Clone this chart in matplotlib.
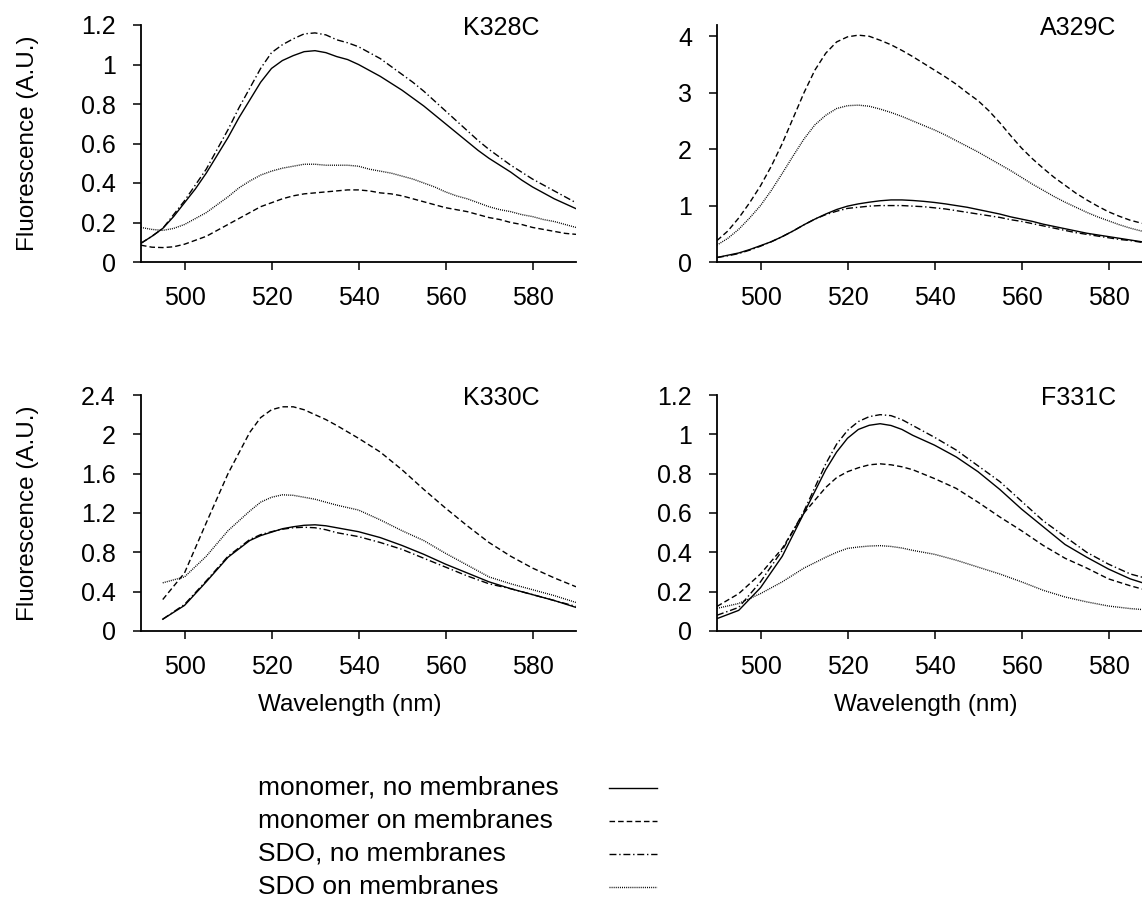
"""
fluorescence spectra, 4 mutants
"""
import numpy as np
from matplotlib import pyplot as plt

plt.rcParams['font.family'] = ['Liberation Sans', 'DejaVu Sans']
plt.rcParams['lines.scale_dashes'] = False

# grille 2.5 nm pour K328C et A329C
wl = np.arange(490, 590.1, 2.5)
# grilles plus lâches pour K330C et F331C
wl_k330 = [495, 500, 505, 510, 515, 517.5, 520, 522.5, 525, 527.5, 530, 532.5,
           535, 540, 545, 550, 555, 560, 565, 570, 575, 580, 585, 590]
wl_f331 = [490, 495, 500, 505, 510, 515, 517.5, 520, 522.5, 525, 527.5, 530,
           532.5, 535, 540, 545, 550, 555, 560, 565, 570, 575, 580, 585, 590]

# K328C
k328_mono = [.095, .13, .17, .23, .30, .37, .45, .54, .63, .73, .82, .91, .98,
             1.02, 1.045, 1.065, 1.07, 1.06, 1.04, 1.025, 1.0, .97, .94, .905,
             .87, .83, .79, .745, .70, .655, .61, .565, .525, .49, .455, .415,
             .38, .35, .32, .295, .27]
k328_mono_mem = [.085, .075, .073, .077, .09, .11, .13, .16, .19, .22, .25, .28,
                 .30, .32, .335, .345, .35, .355, .36, .365, .365, .36, .35,
                 .345, .335, .32, .305, .29, .275, .265, .255, .24, .225, .215,
                 .20, .19, .175, .165, .155, .145, .14]
k328_sdo = [.095, .13, .17, .24, .31, .39, .47, .57, .67, .78, .88, .98, 1.06,
            1.10, 1.13, 1.155, 1.16, 1.15, 1.125, 1.11, 1.09, 1.06, 1.03, .99,
            .95, .91, .865, .815, .765, .715, .665, .615, .57, .53, .49, .455,
            .42, .39, .36, .33, .30]
k328_sdo_mem = [.175, .165, .16, .17, .19, .22, .25, .29, .33, .375, .41, .44,
                .46, .475, .485, .495, .495, .49, .49, .49, .485, .47, .46, .45,
                .435, .42, .40, .38, .355, .335, .32, .30, .28, .265, .255, .24,
                .23, .215, .205, .19, .175]

# A329C
a329_mono = [.08, .12, .16, .22, .29, .36, .45, .55, .66, .76, .85, .93, .99,
             1.03, 1.06, 1.085, 1.10, 1.10, 1.09, 1.075, 1.055, 1.03, 1.0, .97,
             .93, .89, .85, .80, .76, .72, .67, .63, .59, .55, .51, .48, .45,
             .42, .39, .36, .33]
a329_mono_mem = [.38, .55, .78, 1.05, 1.35, 1.7, 2.1, 2.55, 3.0, 3.4, 3.7, 3.9,
                 3.99, 4.02, 4.0, 3.93, 3.85, 3.75, 3.64, 3.52, 3.4, 3.28, 3.15,
                 3.0, 2.86, 2.68, 2.47, 2.24, 2.02, 1.83, 1.66, 1.5, 1.36, 1.22,
                 1.1, .99, .89, .81, .74, .69, .65]
a329_sdo = [.08, .11, .15, .21, .28, .36, .45, .55, .66, .76, .84, .9, .95, .97,
            .99, 1.0, 1.0, 1.0, .99, .98, .96, .94, .91, .88, .85, .82, .79,
            .75, .72, .68, .64, .6, .56, .52, .49, .46, .43, .4, .38, .35, .33]
a329_sdo_mem = [.30, .42, .58, .78, 1.0, 1.27, 1.57, 1.88, 2.18, 2.43, 2.6,
                2.72, 2.77, 2.78, 2.76, 2.71, 2.65, 2.58, 2.5, 2.42, 2.34, 2.25,
                2.15, 2.05, 1.95, 1.84, 1.73, 1.62, 1.5, 1.38, 1.27, 1.16, 1.06,
                .97, .88, .8, .73, .66, .6, .55, .5]

# K330C (commence a 495 nm)
k330_mono = [.12, .26, .5, .75, .92, .97, 1.005, 1.04, 1.06, 1.075, 1.08, 1.07,
             1.05, 1.01, .95, .87, .78, .68, .59, .5, .43, .37, .31, .24]
k330_mono_mem = [.32, .59, 1.1, 1.6, 2.02, 2.17, 2.25, 2.28, 2.28, 2.25, 2.2,
                 2.15, 2.09, 1.96, 1.82, 1.64, 1.44, 1.25, 1.07, .9, .76, .64,
                 .54, .45]
k330_sdo = [.12, .27, .51, .76, .93, .98, 1.01, 1.035, 1.05, 1.055, 1.05, 1.03,
            1.0, .96, .9, .83, .74, .65, .56, .48, .43, .37, .31, .25]
k330_sdo_mem = [.49, .55, .76, 1.02, 1.22, 1.31, 1.36, 1.385, 1.38, 1.36, 1.34,
                1.31, 1.28, 1.23, 1.13, 1.02, .92, .79, .67, .55, .48, .42, .36,
                .29]

# F331C
f331_mono = [.063, .105, .22, .38, .6, .82, .91, .98, 1.025, 1.046, 1.054,
             1.045, 1.025, .995, .945, .885, .81, .72, .62, .53, .44, .375,
             .315, .265, .23]
f331_mono_mem = [.125, .19, .29, .42, .6, .73, .78, .81, .83, .845, .85, .845,
                 .835, .82, .775, .725, .655, .58, .51, .435, .37, .32, .265,
                 .23, .2]
f331_sdo = [.08, .12, .25, .41, .61, .85, .95, 1.02, 1.065, 1.09, 1.1, 1.095,
            1.075, 1.045, .985, .92, .84, .76, .66, .56, .48, .4, .34, .29, .26]
f331_sdo_mem = [.115, .14, .19, .25, .32, .375, .4, .42, .427, .432, .434, .43,
                .422, .41, .39, .36, .325, .29, .25, .207, .173, .148, .127,
                .114, .105]

noms = ['K328C', 'A329C', 'K330C', 'F331C']
xs = [wl, wl, wl_k330, wl_f331]
series = [[k328_mono, k328_mono_mem, k328_sdo, k328_sdo_mem],
          [a329_mono, a329_mono_mem, a329_sdo, a329_sdo_mem],
          [k330_mono, k330_mono_mem, k330_sdo, k330_sdo_mem],
          [f331_mono, f331_mono_mem, f331_sdo, f331_sdo_mem]]
yticks = [[0, 0.2, 0.4, 0.6, 0.8, 1, 1.2], [0, 1, 2, 3, 4],
          [0, 0.4, 0.8, 1.2, 1.6, 2, 2.4], [0, 0.2, 0.4, 0.6, 0.8, 1, 1.2]]
ymax = [1.2, 4.2, 2.4, 1.2]
legende = ['monomer, no membranes', 'monomer on membranes',
           'SDO, no membranes', 'SDO on membranes']
styles = ['-', (0, (4, 2.2)), (0, (5, 2, 1, 2)), (0, (0.7, 0.8))]

W, H = 1142, 899
fig = plt.figure(figsize=(W / 100, H / 100), dpi=100)
# boites en pixels : gauche, haut, droite, bas
boites = [(141, 25, 576, 262), (717, 25, 1152, 262),
          (141, 395, 576, 631), (717, 395, 1152, 631)]

for i in range(4):
    l, t, r, b = boites[i]
    ax = fig.add_axes([l / W, 1 - b / H, (r - l) / W, (b - t) / H])
    for s, ls in zip(series[i], styles):
        ax.plot(xs[i], s, color='black', lw=1.0, linestyle=ls)
    ax.set_xlim(490, 590)
    ax.set_ylim(0, ymax[i])
    ax.set_xticks([500, 520, 540, 560, 580])
    ax.set_yticks(yticks[i])
    ax.set_yticklabels(['%g' % v for v in yticks[i]])
    ax.spines['top'].set_visible(False)
    ax.spines['right'].set_visible(False)
    ax.spines['left'].set_linewidth(1.3)
    ax.spines['bottom'].set_linewidth(1.3)
    ax.tick_params(labelsize=18, length=5.5, width=1.1)
    ax.tick_params(axis='x', pad=11.5)
    ax.tick_params(axis='y', pad=12.5)
    ax.text(0.917, 0.958, noms[i], transform=ax.transAxes, ha='right',
            va='baseline', fontsize=18)
    if i % 2 == 0:
        ax.set_ylabel('Fluorescence (A.U.)', fontsize=17.5)
        ax.yaxis.set_label_coords(-0.234, 0.5)
    if i >= 2:
        ax.set_xlabel('Wavelength (nm)', fontsize=17.5)
        ax.xaxis.set_label_coords(0.48, -0.268)

# legende faite a la main
axl = fig.add_axes([0, 0, 1, 1])
axl.set_xlim(0, W)
axl.set_ylim(H, 0)
axl.axis('off')
for k in range(4):
    y = 788 + 33 * k
    axl.text(258, y, legende[k], fontsize=19, va='center', ha='left')
    axl.plot([609, 657], [y, y], color='black', lw=1.0, linestyle=styles[k])

plt.savefig('out.png', dpi=100)
